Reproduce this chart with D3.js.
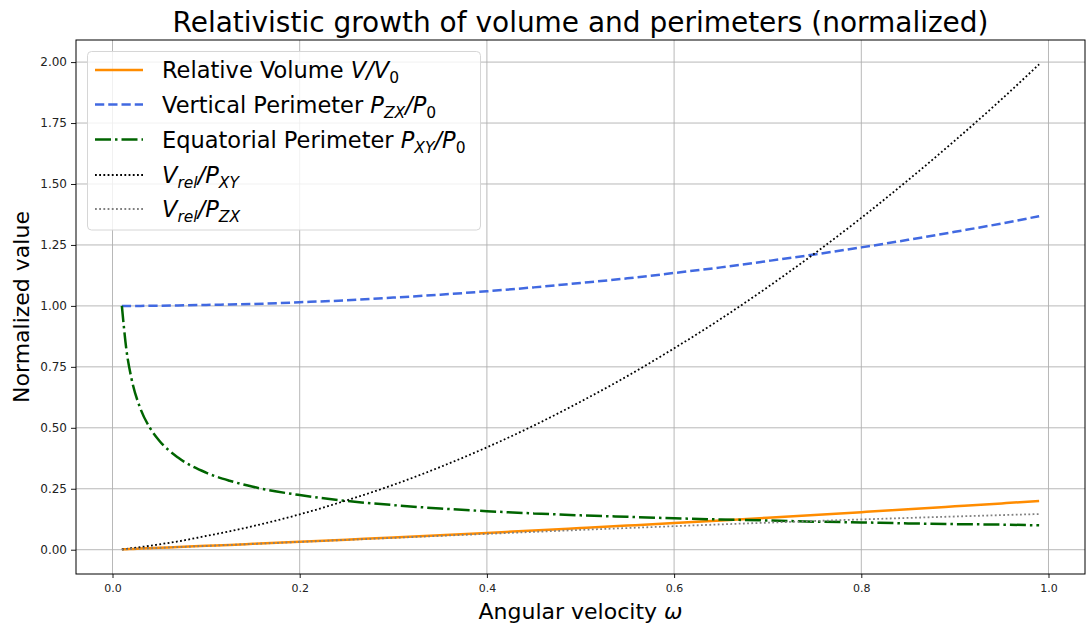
<!DOCTYPE html>
<html>
<head>
<meta charset="utf-8">
<script src="https://cdn.jsdelivr.net/npm/d3@7"></script>
<style>
  html, body { margin: 0; padding: 0; background: #fff; }
  svg { display: block; font-family: "DejaVu Sans", sans-serif; }
</style>
</head>
<body>
<svg id="chart" width="1091" height="629"></svg>
<script>
// ---- data ----
const omega = [0.01, 0.015, 0.02, 0.03, 0.04, 0.05, 0.07, 0.1, 0.125, 0.15, 0.2, 0.25, 0.3, 0.35, 0.4, 0.45, 0.5, 0.55, 0.6, 0.65, 0.7, 0.75, 0.8, 0.85, 0.9, 0.95, 0.99];
const relVolume = [0.0015, 0.0024, 0.0031, 0.0046, 0.0062, 0.0078, 0.0109, 0.0158, 0.0198, 0.0240, 0.0325, 0.0413, 0.0503, 0.0595, 0.0690, 0.0787, 0.0888, 0.0990, 0.1095, 0.1203, 0.1313, 0.1425, 0.1540, 0.1657, 0.1778, 0.1900, 0.2000];
const vertPerimeter = [1.000, 1.000, 1.000, 1.000, 1.001, 1.001, 1.002, 1.004, 1.006, 1.008, 1.015, 1.023, 1.034, 1.046, 1.060, 1.076, 1.094, 1.113, 1.135, 1.158, 1.184, 1.211, 1.240, 1.271, 1.304, 1.338, 1.368];
const eqPerimeter = [1.000, 0.816, 0.707, 0.577, 0.500, 0.447, 0.378, 0.316, 0.283, 0.258, 0.224, 0.200, 0.183, 0.169, 0.158, 0.149, 0.141, 0.135, 0.129, 0.124, 0.120, 0.115, 0.112, 0.108, 0.105, 0.103, 0.100];
const volOverPxy = [0.001, 0.0035, 0.006, 0.011, 0.016, 0.022, 0.034, 0.0563, 0.0754, 0.0966, 0.145, 0.202, 0.266, 0.339, 0.420, 0.509, 0.607, 0.712, 0.826, 0.947, 1.077, 1.215, 1.361, 1.516, 1.678, 1.848, 1.991];
const volOverPzx = [0.0015, 0.0023, 0.0031, 0.0046, 0.0062, 0.0078, 0.0109, 0.0157, 0.0197, 0.0238, 0.0320, 0.0404, 0.0486, 0.0569, 0.0651, 0.0731, 0.0812, 0.0889, 0.0965, 0.1039, 0.1109, 0.1177, 0.1242, 0.1304, 0.1363, 0.1420, 0.1462];

const xTicks = [0.0, 0.2, 0.4, 0.6, 0.8, 1.0];
const yTicks = [0.00, 0.25, 0.50, 0.75, 1.00, 1.25, 1.50, 1.75, 2.00];

const titleText = "Relativistic growth of volume and perimeters (normalized)";
const xLabel = "Angular velocity ";
const xLabelSym = "ω";
const yLabel = "Normalized value";

// label parts: [text, style] style: n=normal, i=italic, s=subscript normal, si=subscript italic
const seriesDefs = [
  { values: relVolume,     color: "#ff8c00", width: 2.5, dash: null,
    label: [["Relative Volume ", "n"], ["V", "i"], ["/", "i"], ["V", "i"], ["0", "s"]] },
  { values: vertPerimeter, color: "#4169e1", width: 2.5, dash: "9.25,4",
    label: [["Vertical Perimeter ", "n"], ["P", "i"], ["ZX", "si"], ["/", "i"], ["P", "i"], ["0", "s"]] },
  { values: eqPerimeter,   color: "#006400", width: 2.5, dash: "16,4,2.5,4",
    label: [["Equatorial Perimeter ", "n"], ["P", "i"], ["XY", "si"], ["/", "i"], ["P", "i"], ["0", "s"]] },
  { values: volOverPxy,    color: "#000000", width: 1.8, dash: "1.8,2.4",
    label: [["V", "i"], ["rel", "si"], ["/", "i"], ["P", "i"], ["XY", "si"]] },
  { values: volOverPzx,    color: "#808080", width: 1.8, dash: "1.8,2.4",
    label: [["V", "i"], ["rel", "si"], ["/", "i"], ["P", "i"], ["ZX", "si"]] }
];

// ---- layout ----
const svg = d3.select("#chart");
const L = 76, R = 1085, T = 40, B = 574;

const x = d3.scaleLinear().domain([-0.039, 1.039]).range([L, R]);
const y = d3.scaleLinear().domain([-0.0996, 2.0906]).range([B, T]);

// grid
const grid = svg.append("g");
grid.selectAll("line.gx").data(xTicks).enter().append("line")
  .attr("x1", d => x(d)).attr("x2", d => x(d)).attr("y1", T).attr("y2", B)
  .attr("stroke", "#b0b0b0").attr("stroke-width", 0.9);
grid.selectAll("line.gy").data(yTicks).enter().append("line")
  .attr("y1", d => y(d)).attr("y2", d => y(d)).attr("x1", L).attr("x2", R)
  .attr("stroke", "#b0b0b0").attr("stroke-width", 0.9);

// axes
const xAxis = d3.axisBottom(x).tickValues(xTicks).tickFormat(d3.format(".1f")).tickSizeOuter(0).tickSize(4).tickPadding(6);
const yAxis = d3.axisLeft(y).tickValues(yTicks).tickFormat(d3.format(".2f")).tickSizeOuter(0).tickSize(5).tickPadding(4);
const gx = svg.append("g").attr("transform", `translate(0,${B})`).call(xAxis);
const gy = svg.append("g").attr("transform", `translate(${L},0)`).call(yAxis);
[gx, gy].forEach(g => {
  g.select(".domain").remove();
  g.selectAll("line").attr("stroke", "#000").attr("stroke-width", 0.9);
});
gx.selectAll("text").attr("font-family", "DejaVu Sans").attr("font-size", 11).attr("fill", "#222");
gy.selectAll("text").attr("font-family", "DejaVu Sans").attr("font-size", 12).attr("fill", "#222");

// lines
const lineGen = vals => d3.line()
  .x((d, i) => x(omega[i]))
  .y(d => y(d))
  .curve(d3.curveMonotoneX)(vals);

seriesDefs.forEach(s => {
  svg.append("path")
    .attr("d", lineGen(s.values))
    .attr("fill", "none")
    .attr("stroke", s.color)
    .attr("stroke-width", s.width)
    .attr("stroke-dasharray", s.dash);
});

// frame
svg.append("rect").attr("x", L).attr("y", T).attr("width", R - L).attr("height", B - T)
  .attr("fill", "none").attr("stroke", "#000").attr("stroke-width", 1);

// title and labels
svg.append("text").attr("x", (L + R) / 2).attr("y", 32).attr("text-anchor", "middle")
  .attr("font-size", 28).attr("fill", "#000")
  .attr("textLength", 816).attr("lengthAdjust", "spacingAndGlyphs").text(titleText);

const xl = svg.append("text").attr("x", (L + R) / 2).attr("y", 619).attr("text-anchor", "middle")
  .attr("font-size", 22).attr("fill", "#000");
xl.append("tspan").text(xLabel);
xl.append("tspan").attr("font-style", "italic").text(xLabelSym);

svg.append("text").attr("transform", `translate(29,${(T + B) / 2}) rotate(-90)`)
  .attr("text-anchor", "middle").attr("font-size", 22).attr("fill", "#000").text(yLabel);

// legend
const lg = svg.append("g");
lg.append("rect").attr("x", 87.5).attr("y", 51.5).attr("width", 393).attr("height", 178.5)
  .attr("rx", 4).attr("fill", "#fff").attr("fill-opacity", 0.8)
  .attr("stroke", "#d6d6d6").attr("stroke-width", 1);

const rowY = [70, 104.5, 139.5, 175, 209];
seriesDefs.forEach((s, i) => {
  const cy = rowY[i];
  lg.append("line").attr("x1", 95).attr("x2", 143).attr("y1", cy).attr("y2", cy)
    .attr("stroke", s.color).attr("stroke-width", s.width)
    .attr("stroke-dasharray", s.dash);
  const t = lg.append("text").attr("x", 162).attr("y", cy + 8)
    .attr("font-size", 22.5).attr("fill", "#000");
  let prevSub = false;
  s.label.forEach(([txt, st]) => {
    const sp = t.append("tspan").text(txt);
    const isSub = st === "s" || st === "si";
    if (st === "i" || st === "si") sp.attr("font-style", "italic");
    if (isSub) sp.attr("font-size", 15.5);
    if (isSub && !prevSub) sp.attr("dy", 5);
    if (!isSub && prevSub) sp.attr("dy", -5);
    prevSub = isSub;
  });
});
</script>
</body>
</html>
